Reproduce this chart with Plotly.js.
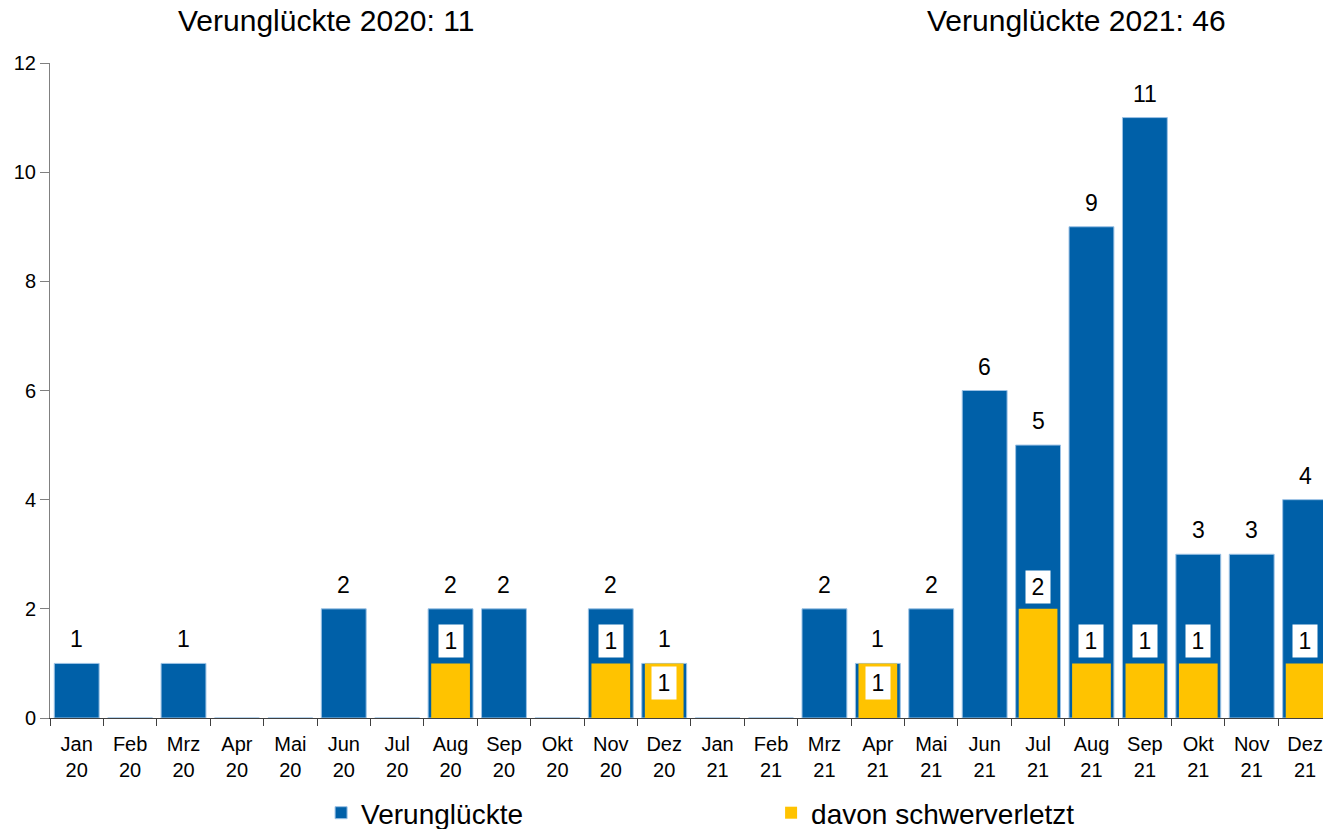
<!DOCTYPE html>
<html>
<head>
<meta charset="utf-8">
<script src="https://cdn.plot.ly/plotly-3.0.1.min.js"></script>
<style>html,body{margin:0;padding:0;background:#fff;}#chart{width:1323px;height:829px;}</style>
</head>
<body>
<div id="chart"></div>
<script>
const months = ["Jan","Feb","Mrz","Apr","Mai","Jun","Jul","Aug","Sep","Okt","Nov","Dez"];
const years = ["20","21"];
const categories = [];
years.forEach(y => months.forEach(m => categories.push(m + "<br>" + y)));

const verunglueckte = [1,0,1,0,0,2,0,2,2,0,2,1, 0,0,2,1,2,6,5,9,11,3,3,4];
const schwerverletzt = [0,0,0,0,0,0,0,1,0,0,1,1, 0,0,0,1,0,0,2,1,1,1,0,1];

const seriesNames = ["Verunglückte", "davon schwerverletzt"];
const blue = "#0060A8";
const yellow = "#FFC300";
const font = "Liberation Sans, Arial, sans-serif";

const total2020 = verunglueckte.slice(0,12).reduce((a,b)=>a+b,0);
const total2021 = verunglueckte.slice(12).reduce((a,b)=>a+b,0);

const traces = [
  {type:"bar", name:seriesNames[0], x:categories, y:verunglueckte, width:0.84,
   marker:{color:blue, line:{color:"#9CC2E5", width:1}}, hoverinfo:"x+y"},
  {type:"bar", name:seriesNames[1], x:categories, y:schwerverletzt.map(v=>v||null), width:0.725,
   marker:{color:yellow, line:{width:0}}, hoverinfo:"x+y"}
];

const annotations = [];
categories.forEach((c,i) => {
  if (verunglueckte[i] > 0) {
    annotations.push({x:c, y:verunglueckte[i], xref:"x", yref:"y", text:String(verunglueckte[i]),
      showarrow:false, yanchor:"middle", yshift:24, font:{family:font, size:23, color:"#000"}});
  }
  if (schwerverletzt[i] > 0) {
    const inside = schwerverletzt[i] === verunglueckte[i];
    annotations.push({x:c, y:schwerverletzt[i], xref:"x", yref:"y", text:String(schwerverletzt[i]),
      showarrow:false, yanchor:"middle", yshift: inside ? -20 : 22,
      bgcolor:"#fff", width:18, height:26, borderpad:3,
      font:{family:font, size:23, color:"#000"}});
  }
});
annotations.push({xref:"paper", yref:"paper", x:0.2172, y:1.0656, xanchor:"center", yanchor:"middle",
  text:"Verunglückte 2020: " + total2020, showarrow:false, font:{family:font, size:30, color:"#000"}});
annotations.push({xref:"paper", yref:"paper", x:0.8063, y:1.0656, xanchor:"center", yanchor:"middle",
  text:"Verunglückte 2021: " + total2021, showarrow:false, font:{family:font, size:30, color:"#000"}});

const layout = {
  width:1323, height:829,
  margin:{l:50, r:0, t:63, b:111},
  paper_bgcolor:"#fff", plot_bgcolor:"#fff",
  barmode:"overlay",
  showlegend:true,
  legend:{orientation:"h", xref:"container", yref:"container", x:0.2427, xanchor:"left", y:0.0193, yanchor:"middle",
    entrywidth:405, entrywidthmode:"pixels",
    font:{family:font, size:28, color:"#000"}, traceorder:"normal"},
  xaxis:{type:"category", range:[-0.5, 23.335], tickson:"boundaries", ticks:"outside", ticklen:7,
    tickcolor:"#404040", showline:true, linecolor:"#404040", linewidth:1, showgrid:false, zeroline:false,
    ticklabelstandoff:8,
    tickfont:{family:font, size:20, color:"#000"}, fixedrange:true},
  yaxis:{range:[0,12], dtick:2, ticks:"outside", ticklen:9, tickcolor:"#808080", showline:true,
    linecolor:"#808080", linewidth:1, showgrid:false, zeroline:false,
    tickfont:{family:font, size:20, color:"#000"}, fixedrange:true},
  annotations:annotations
};

Plotly.newPlot("chart", traces, layout, {displayModeBar:false, staticPlot:true});
</script>
</body>
</html>
